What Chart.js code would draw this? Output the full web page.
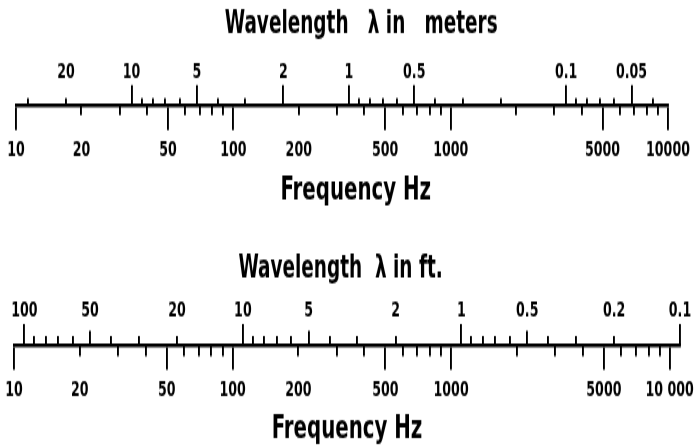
<!DOCTYPE html>
<html>
<head>
<meta charset="utf-8">
<script src="https://cdn.jsdelivr.net/npm/chart.js@4.4.1/dist/chart.umd.min.js"></script>
<style>
html,body{margin:0;padding:0;background:#fff;width:694px;height:447px;overflow:hidden;}
.wrap{position:absolute;left:0;transform-origin:0 0;transform:scaleY(1.5);}
#w1{top:0;}
#w2{top:216px;}
canvas{display:block;}
</style>
</head>
<body>
<div class="wrap" id="w1"><canvas id="c1" width="694" height="144"></canvas></div>
<div class="wrap" id="w2"><canvas id="c2" width="694" height="154"></canvas></div>
<script>
// ---- data ----
const SPEED_M = 340;    // speed of sound, m/s
const SPEED_FT = 1115;  // speed of sound, ft/s
const freqRangeTop = [10, 10000];
const freqRangeBottom = [10, 11150];

const freqLabelValues = [10, 20, 50, 100, 200, 500, 1000, 5000, 10000];
const freqLabelTextTop = ['10', '20', '50', '100', '200', '500', '1000', '5000', '10000'];
const freqLabelTextBottom = ['10', '20', '50', '100', '200', '500', '1000', '5000', '10 000'];
const freqLongTicks = [10, 50, 100, 500, 1000, 5000, 10000];
const freqShortTicks = [20, 30, 40, 60, 70, 80, 90, 200, 300, 400, 600, 700, 800, 900,
  2000, 3000, 4000, 6000, 7000, 8000, 9000];

const waveMLabelValues = [20, 10, 5, 2, 1, 0.5, 0.1, 0.05];
const waveMLabelText = ['20', '10', '5', '2', '1', '0.5', '0.1', '0.05'];
const waveMLongTicks = [10, 5, 2, 1, 0.5, 0.1, 0.05];
const waveMShortTicks = [30, 20, 9, 8, 7, 6, 4, 3, 0.9, 0.8, 0.7, 0.6, 0.4, 0.3, 0.2,
  0.09, 0.08, 0.07, 0.06, 0.04];

const waveFtLabelValues = [100, 50, 20, 10, 5, 2, 1, 0.5, 0.2, 0.1];
const waveFtLabelText = ['100', '50', '20', '10', '5', '2', '1', '0.5', '0.2', '0.1'];
const waveFtLongTicks = [100, 10, 1, 0.1];
const waveFtMediumTicks = [50, 5, 0.5];
const waveFtShortTicks = [90, 80, 70, 60, 40, 30, 20, 9, 8, 7, 6, 4, 3, 2,
  0.9, 0.8, 0.7, 0.6, 0.4, 0.3, 0.2];

// ---- style ----
const FONT = '"DejaVu Sans Condensed", "Liberation Sans Narrow", "DejaVu Sans", sans-serif';
const INK = '#000000';

function union(a, b) {
  const out = a.slice();
  b.forEach(v => { if (!out.includes(v)) out.push(v); });
  return out;
}

function scaleDef(o) {
  const labelVals = o.labelValues || [];
  const labelTexts = o.labelTexts || [];
  const shown = o.marks;
  const values = union(labelVals, shown);
  return {
    type: 'logarithmic', axis: 'x', position: o.position, weight: o.weight,
    min: o.min, max: o.max, reverse: !!o.reverse, bounds: 'data', offset: false,
    afterBuildTicks: s => { s.ticks = values.map(v => ({ value: v })); },
    afterFit: s => {
      s.height = o.height;
      s.paddingLeft = 0; s.paddingRight = 0; s.paddingTop = 0; s.paddingBottom = 0;
    },
    grid: {
      display: true, drawOnChartArea: false, drawTicks: true,
      tickLength: o.tickLength, lineWidth: 1.9, tickWidth: 1.9,
      tickColor: c => (c.tick && shown.includes(c.tick.value)) ? INK : 'rgba(0,0,0,0)'
    },
    border: { display: !!o.border, width: 2.6, color: INK },
    ticks: {
      display: labelVals.length > 0, autoSkip: false, maxRotation: 0, minRotation: 0,
      padding: o.labelPad || 0, color: INK, font: { family: FONT, size: 14, weight: 'bold' },
      callback: v => { const i = labelVals.indexOf(v); return i >= 0 ? labelTexts[i] : ''; }
    },
    title: o.title ? {
      display: true, text: o.title, color: INK,
      font: { family: FONT, size: o.titleSize, weight: 'bold' }, padding: o.titlePad
    } : { display: false }
  };
}

function baseOptions(padding, scales) {
  return {
    responsive: false, animation: false, devicePixelRatio: 1, events: [],
    layout: { padding: padding },
    plugins: { legend: { display: false }, tooltip: { enabled: false }, title: { display: false } },
    scales: scales
  };
}

// ---- upper scale: metres ----
new Chart(document.getElementById('c1'), {
  type: 'line',
  data: { datasets: [] },
  options: baseOptions({ left: 16, right: 26, top: 0, bottom: 0 }, {
    wl: scaleDef({ position: 'top', weight: 2,
      min: SPEED_M / freqRangeTop[1], max: SPEED_M / freqRangeTop[0], reverse: true,
      labelValues: waveMLabelValues, labelTexts: waveMLabelText, marks: waveMLongTicks,
      tickLength: 13.3, labelPad: 0.3, height: 70,
      title: '      Wavelength   \u03bb in   meters', titleSize: 20.5, titlePad: { top: 4.7, bottom: 0 } }),
    ws: scaleDef({ position: 'top', weight: 1,
      min: SPEED_M / freqRangeTop[1], max: SPEED_M / freqRangeTop[0], reverse: true,
      marks: waveMShortTicks, tickLength: 4.5, height: 0 }),
    fs: scaleDef({ position: 'bottom', weight: 0,
      min: freqRangeTop[0], max: freqRangeTop[1],
      marks: freqShortTicks, tickLength: 6.7, height: 0 }),
    fl: scaleDef({ position: 'bottom', weight: 1,
      min: freqRangeTop[0], max: freqRangeTop[1],
      labelValues: freqLabelValues, labelTexts: freqLabelTextTop, marks: freqLongTicks,
      tickLength: 16.7, labelPad: 5.6, height: 74, border: true,
      title: '    Frequency Hz', titleSize: 22, titlePad: { top: 0, bottom: 3.5 } })
  })
});

// ---- lower scale: feet ----
new Chart(document.getElementById('c2'), {
  type: 'line',
  data: { datasets: [] },
  options: baseOptions({ left: 14, right: 14, top: 0, bottom: 0 }, {
    wl: scaleDef({ position: 'top', weight: 2,
      min: SPEED_FT / freqRangeBottom[1], max: SPEED_FT / freqRangeBottom[0], reverse: true,
      labelValues: waveFtLabelValues, labelTexts: waveFtLabelText, marks: waveFtLongTicks,
      tickLength: 14, labelPad: 0, height: 86,
      title: 'Wavelength  \u03bb in ft.  ', titleSize: 20.5, titlePad: { top: 23.3, bottom: 0 } }),
    wm: scaleDef({ position: 'top', weight: 1,
      min: SPEED_FT / freqRangeBottom[1], max: SPEED_FT / freqRangeBottom[0], reverse: true,
      marks: waveFtMediumTicks, tickLength: 9.5, height: 0 }),
    ws: scaleDef({ position: 'top', weight: 0,
      min: SPEED_FT / freqRangeBottom[1], max: SPEED_FT / freqRangeBottom[0], reverse: true,
      marks: waveFtShortTicks, tickLength: 6, height: 0 }),
    fs: scaleDef({ position: 'bottom', weight: 0,
      min: freqRangeBottom[0], max: freqRangeBottom[1],
      marks: freqShortTicks, tickLength: 7.5, height: 0 }),
    fl: scaleDef({ position: 'bottom', weight: 1,
      min: freqRangeBottom[0], max: freqRangeBottom[1],
      labelValues: freqLabelValues, labelTexts: freqLabelTextBottom, marks: freqLongTicks,
      tickLength: 16.5, labelPad: 5.1, height: 68, border: true,
      title: 'Frequency Hz', titleSize: 22, titlePad: { top: 0, bottom: -1.2 } })
  })
});
</script>
</body>
</html>
